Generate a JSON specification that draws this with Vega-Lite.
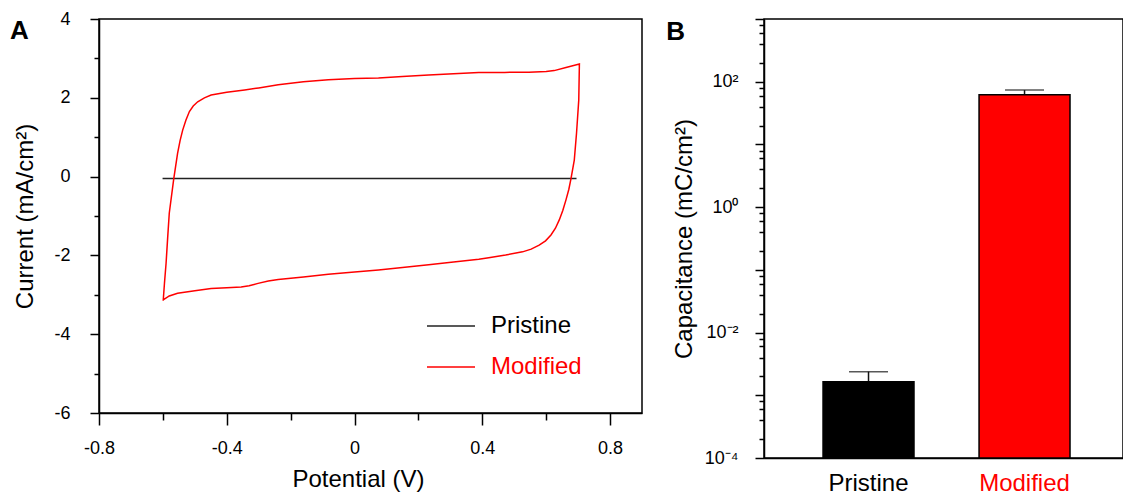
{
  "$schema": "https://vega.github.io/schema/vega-lite/v6.json",
  "padding": {"left": 9, "top": 9, "right": 0, "bottom": 0},
  "spacing": 22,
  "config": {
    "font": "Liberation Sans",
    "view": {"stroke": "black", "strokeWidth": 1.5},
    "axis": {"domainColor": "black", "tickColor": "black", "labelColor": "black", "titleColor": "black", "domainWidth": 1.5, "tickWidth": 1.5, "grid": false, "titleFontWeight": "normal", "labelFont": "Liberation Sans", "titleFont": "Liberation Sans"}
  },
  "resolve": {"scale": {"x": "independent", "y": "independent", "color": "independent"}},
  "hconcat": [
    {
      "width": 543,
      "height": 394,
      "title": {"text": "A", "anchor": "start", "frame": "bounds", "offset": -34, "dx": -4, "fontSize": 26, "fontWeight": "bold", "color": "black", "font": "Liberation Sans"},
      "data": {"values": [
        {"series": "Pristine", "i": 0, "v": -0.601, "c": -0.05},
        {"series": "Pristine", "i": 1, "v": 0.0, "c": -0.05},
        {"series": "Pristine", "i": 2, "v": 0.695, "c": -0.05},
        {"series": "Modified", "i": 0, "v": -0.599, "c": -3.15},
        {"series": "Modified", "i": 1, "v": -0.595, "c": -2.7},
        {"series": "Modified", "i": 2, "v": -0.59, "c": -2.2},
        {"series": "Modified", "i": 3, "v": -0.585, "c": -1.55},
        {"series": "Modified", "i": 4, "v": -0.58, "c": -0.93},
        {"series": "Modified", "i": 5, "v": -0.566, "c": -0.06},
        {"series": "Modified", "i": 6, "v": -0.554, "c": 0.59},
        {"series": "Modified", "i": 7, "v": -0.546, "c": 0.92},
        {"series": "Modified", "i": 8, "v": -0.538, "c": 1.18},
        {"series": "Modified", "i": 9, "v": -0.528, "c": 1.43},
        {"series": "Modified", "i": 10, "v": -0.517, "c": 1.65},
        {"series": "Modified", "i": 11, "v": -0.505, "c": 1.79},
        {"series": "Modified", "i": 12, "v": -0.491, "c": 1.9},
        {"series": "Modified", "i": 13, "v": -0.47, "c": 2.0},
        {"series": "Modified", "i": 14, "v": -0.449, "c": 2.07},
        {"series": "Modified", "i": 15, "v": -0.4, "c": 2.14},
        {"series": "Modified", "i": 16, "v": -0.344, "c": 2.2},
        {"series": "Modified", "i": 17, "v": -0.3, "c": 2.25},
        {"series": "Modified", "i": 18, "v": -0.239, "c": 2.33},
        {"series": "Modified", "i": 19, "v": -0.16, "c": 2.41},
        {"series": "Modified", "i": 20, "v": -0.082, "c": 2.46},
        {"series": "Modified", "i": 21, "v": 0.0, "c": 2.49},
        {"series": "Modified", "i": 22, "v": 0.075, "c": 2.5},
        {"series": "Modified", "i": 23, "v": 0.15, "c": 2.54},
        {"series": "Modified", "i": 24, "v": 0.232, "c": 2.58},
        {"series": "Modified", "i": 25, "v": 0.31, "c": 2.61},
        {"series": "Modified", "i": 26, "v": 0.389, "c": 2.64},
        {"series": "Modified", "i": 27, "v": 0.47, "c": 2.645},
        {"series": "Modified", "i": 28, "v": 0.546, "c": 2.65},
        {"series": "Modified", "i": 29, "v": 0.6, "c": 2.67},
        {"series": "Modified", "i": 30, "v": 0.625, "c": 2.69},
        {"series": "Modified", "i": 31, "v": 0.662, "c": 2.77},
        {"series": "Modified", "i": 32, "v": 0.704, "c": 2.86},
        {"series": "Modified", "i": 33, "v": 0.702, "c": 1.94},
        {"series": "Modified", "i": 34, "v": 0.695, "c": 1.1},
        {"series": "Modified", "i": 35, "v": 0.688, "c": 0.42},
        {"series": "Modified", "i": 36, "v": 0.678, "c": -0.04},
        {"series": "Modified", "i": 37, "v": 0.671, "c": -0.32},
        {"series": "Modified", "i": 38, "v": 0.662, "c": -0.59},
        {"series": "Modified", "i": 39, "v": 0.652, "c": -0.86},
        {"series": "Modified", "i": 40, "v": 0.641, "c": -1.1},
        {"series": "Modified", "i": 41, "v": 0.629, "c": -1.31},
        {"series": "Modified", "i": 42, "v": 0.615, "c": -1.48},
        {"series": "Modified", "i": 43, "v": 0.598, "c": -1.63},
        {"series": "Modified", "i": 44, "v": 0.578, "c": -1.74},
        {"series": "Modified", "i": 45, "v": 0.553, "c": -1.84},
        {"series": "Modified", "i": 46, "v": 0.526, "c": -1.91},
        {"series": "Modified", "i": 47, "v": 0.473, "c": -1.99},
        {"series": "Modified", "i": 48, "v": 0.42, "c": -2.06},
        {"series": "Modified", "i": 49, "v": 0.389, "c": -2.1},
        {"series": "Modified", "i": 50, "v": 0.31, "c": -2.17},
        {"series": "Modified", "i": 51, "v": 0.232, "c": -2.24},
        {"series": "Modified", "i": 52, "v": 0.15, "c": -2.31},
        {"series": "Modified", "i": 53, "v": 0.075, "c": -2.37},
        {"series": "Modified", "i": 54, "v": 0.0, "c": -2.42},
        {"series": "Modified", "i": 55, "v": -0.082, "c": -2.48},
        {"series": "Modified", "i": 56, "v": -0.16, "c": -2.55},
        {"series": "Modified", "i": 57, "v": -0.239, "c": -2.61},
        {"series": "Modified", "i": 58, "v": -0.27, "c": -2.65},
        {"series": "Modified", "i": 59, "v": -0.302, "c": -2.71},
        {"series": "Modified", "i": 60, "v": -0.33, "c": -2.77},
        {"series": "Modified", "i": 61, "v": -0.355, "c": -2.8},
        {"series": "Modified", "i": 62, "v": -0.4, "c": -2.82},
        {"series": "Modified", "i": 63, "v": -0.449, "c": -2.84},
        {"series": "Modified", "i": 64, "v": -0.5, "c": -2.9},
        {"series": "Modified", "i": 65, "v": -0.554, "c": -2.96},
        {"series": "Modified", "i": 66, "v": -0.58, "c": -3.03},
        {"series": "Modified", "i": 67, "v": -0.599, "c": -3.13}
      ]},
      "mark": {"type": "line", "strokeWidth": 1.5},
      "encoding": {
        "x": {"field": "v", "type": "quantitative",
          "scale": {"domain": [-0.8, 0.9], "nice": false, "zero": false},
          "axis": {"values": [-0.8, -0.6, -0.4, -0.2, 0, 0.2, 0.4, 0.6, 0.8],
            "labelExpr": "abs(round(datum.value*10)) % 4 == 0 ? (datum.value < 0 ? '-' : '') + format(abs(datum.value), '') : ''",
            "tickSize": {"condition": {"test": "abs(round(datum.value*10)) % 4 == 0", "value": 12}, "value": 7},
            "labelFontSize": 18, "labelPadding": 14, "labelOverlap": false, "labelFlush": false,
            "title": "Potential (V)", "titleFontSize": 24, "titlePadding": 10, "titleX": 259}},
        "y": {"field": "c", "type": "quantitative",
          "scale": {"domain": [-6, 4], "nice": false, "zero": false},
          "axis": {"values": [-6, -5, -4, -3, -2, -1, 0, 1, 2, 3, 4],
            "labelExpr": "datum.value % 2 == 0 ? (datum.value < 0 ? '-' : '') + format(abs(datum.value), '') : ''",
            "tickSize": {"condition": {"test": "datum.value % 2 == 0", "value": 9}, "value": 5},
            "labelFontSize": 18, "labelPadding": 20, "labelOverlap": false, "labelFlush": false,
            "title": "Current (mA/cm²)", "titleFontSize": 24, "titlePadding": 16}},
        "color": {"field": "series", "type": "nominal",
          "scale": {"domain": ["Pristine", "Modified"], "range": ["#222222", "#ff0000"]},
          "legend": {"orient": "none", "legendX": 327, "legendY": 282, "title": null,
            "symbolType": "stroke", "symbolSize": 2304, "symbolStrokeWidth": 1.5,
            "labelFontSize": 24, "labelOffset": 15, "rowPadding": 4, "labelFont": "Liberation Sans",
            "encode": {"labels": {"update": {"fill": {"signal": "datum.label === 'Modified' ? '#ff0000' : '#000000'"}}}}}},
        "order": {"field": "i", "type": "quantitative"}
      }
    },
    {
      "width": 359,
      "height": 439,
      "title": {"text": "B", "anchor": "start", "frame": "bounds", "offset": -35, "dx": -6, "fontSize": 26, "fontWeight": "bold", "color": "black", "font": "Liberation Sans"},
      "data": {"values": [
        {"group": "Pristine", "cap": 0.00164, "upper": 0.00238, "base": 0.0001},
        {"group": "Modified", "cap": 62, "upper": 73.5, "base": 0.0001}
      ]},
      "encoding": {
        "x": {"field": "group", "type": "nominal", "sort": ["Pristine", "Modified"],
          "scale": {"paddingInner": 0.417, "paddingOuter": 0.359, "align": 0.527},
          "axis": {"title": null, "ticks": false, "labelAngle": 0, "labelFontSize": 24, "labelPadding": 13,
            "labelColor": {"condition": {"test": "datum.value == 'Modified'", "value": "#ff0000"}, "value": "black"}}}
      },
      "layer": [
        {
          "mark": {"type": "rule", "strokeWidth": 1.5, "color": "#111111"},
          "encoding": {
            "y": {"field": "cap", "type": "quantitative",
              "scale": {"type": "log", "domain": [0.0001, 1000], "nice": false},
              "axis": {"values": [0.0001, 0.0002, 0.0004, 0.0006, 0.0008, 0.001, 0.002, 0.004, 0.006, 0.008, 0.01, 0.02, 0.04, 0.06, 0.08, 0.1, 0.2, 0.4, 0.6, 0.8, 1, 2, 4, 6, 8, 10, 20, 40, 60, 80, 100, 200, 400, 600, 800, 1000],
                "labelExpr": "abs(log(datum.value)/LN10 - round(log(datum.value)/LN10)) < 0.001 && round(log(datum.value)/LN10) % 2 == 0 ? ('10' + (round(log(datum.value)/LN10) == 2 ? '²' : round(log(datum.value)/LN10) == 0 ? '⁰' : round(log(datum.value)/LN10) == -2 ? '⁻²' : '⁻⁴')) : ''",
                "tickSize": {"condition": {"test": "abs(log(datum.value)/LN10 - round(log(datum.value)/LN10)) < 0.001", "value": 9}, "value": 5},
                "labelFontSize": 18, "labelPadding": 17, "labelOverlap": false, "labelFlush": false,
                "title": "Capacitance (mC/cm²)", "titleFontSize": 24, "titlePadding": 8}},
            "y2": {"field": "upper"}
          }
        },
        {
          "mark": {"type": "tick", "size": 39, "thickness": 1.5, "color": "#111111"},
          "encoding": {"y": {"field": "upper", "type": "quantitative"}}
        },
        {
          "mark": {"type": "bar", "stroke": "black", "strokeWidth": 1.5},
          "encoding": {
            "y": {"field": "cap", "type": "quantitative"},
            "y2": {"field": "base"},
            "color": {"field": "group", "type": "nominal",
              "scale": {"domain": ["Pristine", "Modified"], "range": ["#000000", "#ff0000"]}, "legend": null}
          }
        }
      ]
    }
  ]
}
